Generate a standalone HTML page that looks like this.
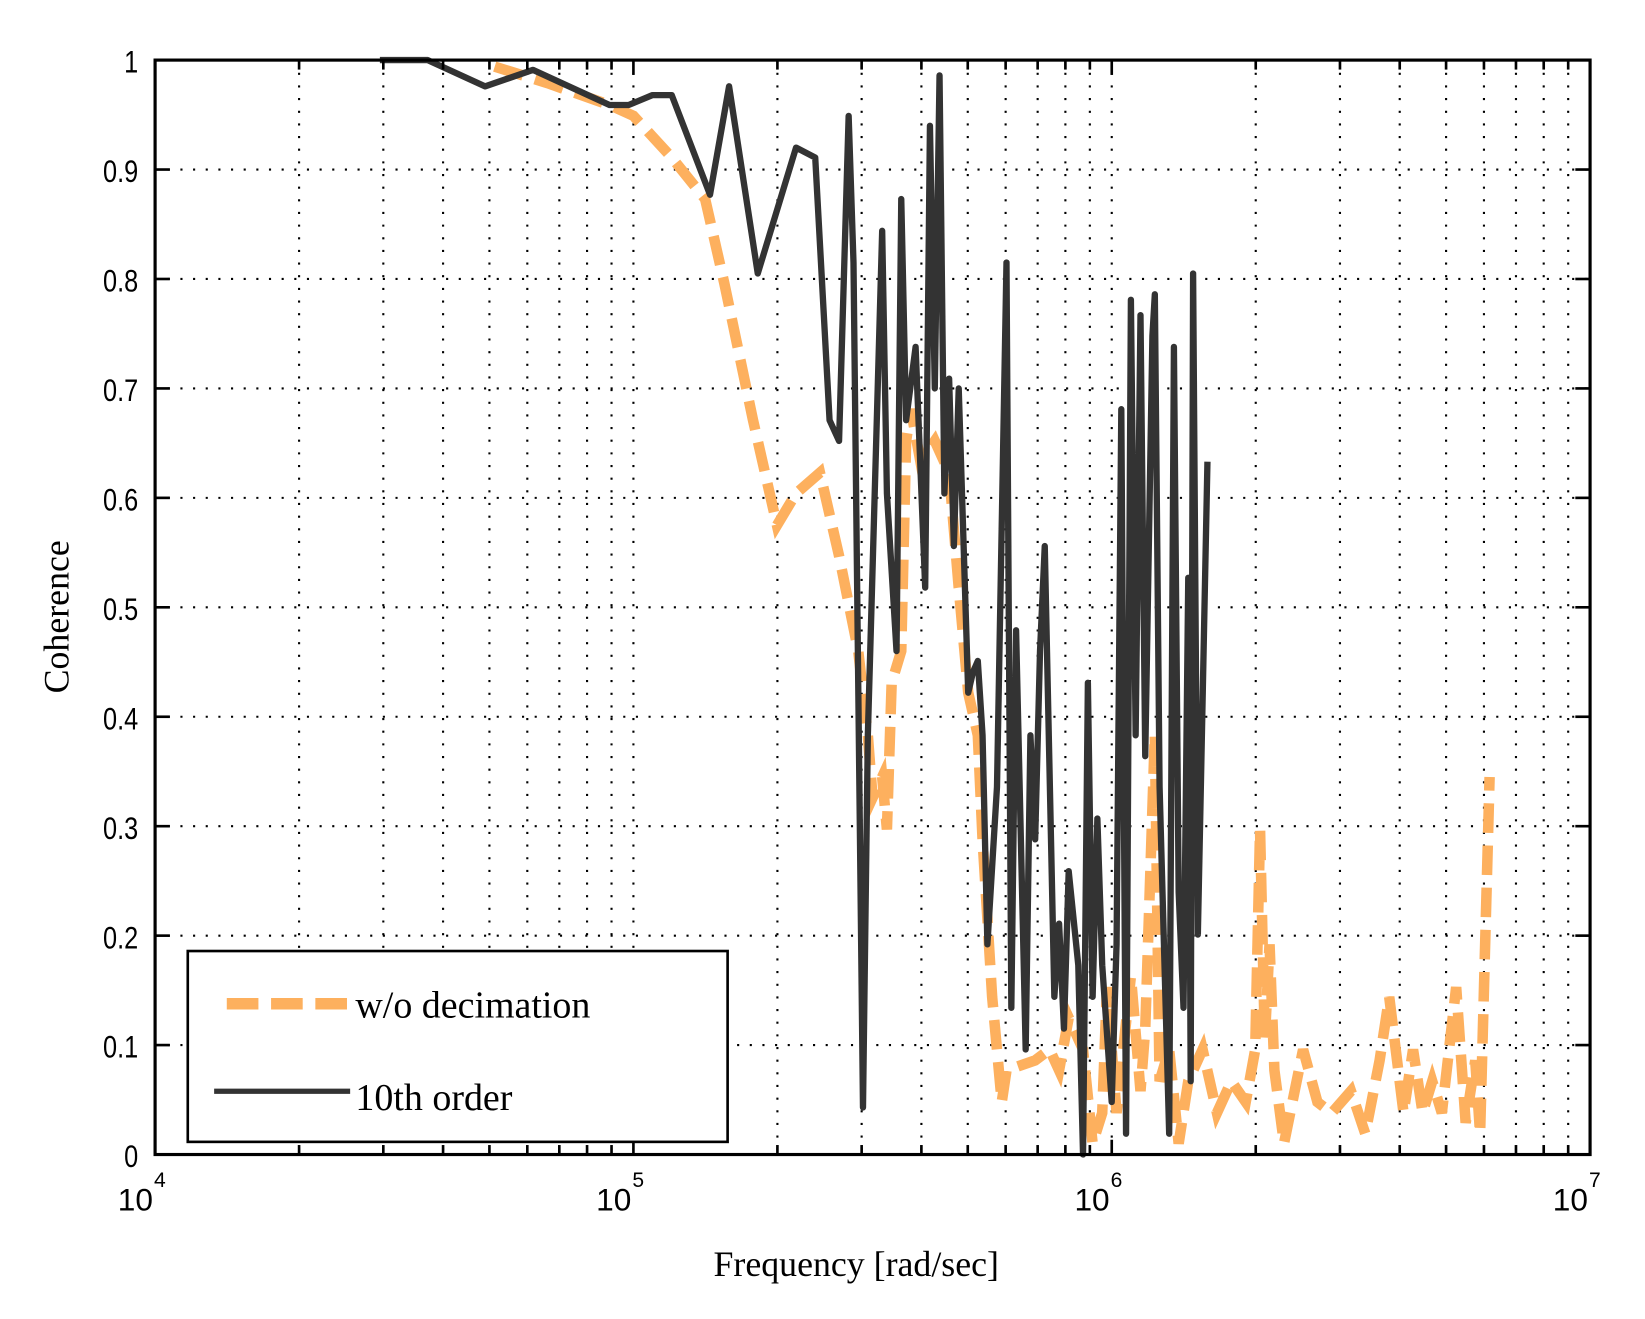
<!DOCTYPE html>
<html><head><meta charset="utf-8"><style>
html,body{margin:0;padding:0;background:#fff;}
svg{display:block;}
text{font-family:"Liberation Sans",sans-serif;fill:#000;}
.lg{font-family:"Liberation Serif",serif;}
</style></head><body>
<svg id="chart" width="1645" height="1319" viewBox="0 0 1560 1251">
<g id="grid"></g>
<g id="series"></g>
<rect x="147" y="57" width="1361" height="1038" fill="none" stroke="#000" stroke-width="3"/>
<g id="ticks"></g>
<text x="812" y="1210" font-size="34" text-anchor="middle" class="lg">Frequency [rad/sec]</text>
<text transform="translate(65,585) rotate(-90)" font-size="34" text-anchor="middle" class="lg">Coherence</text>
<g>
<rect x="178" y="902" width="512" height="181" fill="#fff" stroke="#000" stroke-width="2.5"/>
<line x1="215" y1="952" x2="332" y2="952" stroke="#fdb05e" stroke-width="11" stroke-dasharray="30,12"/>
<text x="337" y="965" font-size="36" class="lg">w/o decimation</text>
<line x1="203" y1="1035" x2="332" y2="1035" stroke="#333" stroke-width="5"/>
<text x="337" y="1053" font-size="36" class="lg">10th order</text>
</g>
</svg>
<script>
const yTicks=[0,0.1,0.2,0.3,0.4,0.5,0.6,0.7,0.8,0.9,1];
const yTickLabels=["0","0.1","0.2","0.3","0.4","0.5","0.6","0.7","0.8","0.9","1"];
const xDecades=[4,5,6,7];
const orderLogFreq=[4.47,4.57,4.69,4.79,4.95,4.99,5.04,5.08,5.16,5.20,5.26,5.34,5.38,5.41,5.43,5.45,5.46,5.48,5.49,5.52,5.53,5.55,5.56,5.57,5.59,5.61,5.62,5.63,5.64,5.65,5.66,5.67,5.68,5.70,5.71,5.72,5.73,5.74,5.76,5.78,5.79,5.80,5.82,5.83,5.84,5.85,5.86,5.88,5.89,5.90,5.91,5.93,5.94,5.95,5.96,5.97,5.98,6.00,6.01,6.02,6.03,6.04,6.05,6.06,6.07,6.085,6.09,6.10,6.12,6.13,6.14,6.15,6.16,6.165,6.17,6.18,6.20];
const orderCoh=[1.0,1.0,0.976,0.991,0.959,0.959,0.968,0.968,0.877,0.976,0.805,0.920,0.911,0.671,0.652,0.949,0.815,0.043,0.383,0.844,0.604,0.460,0.873,0.671,0.738,0.518,0.940,0.700,0.986,0.604,0.709,0.556,0.700,0.422,0.441,0.451,0.383,0.192,0.336,0.815,0.134,0.479,0.096,0.383,0.288,0.460,0.556,0.144,0.211,0.115,0.259,0.173,0.0,0.431,0.144,0.307,0.173,0.048,0.192,0.681,0.019,0.781,0.383,0.767,0.364,0.748,0.786,0.336,0.019,0.738,0.240,0.134,0.527,0.067,0.805,0.201,0.633];
const decimLogFreq=[4.71,4.82,4.95,5.00,5.08,5.15,5.19,5.25,5.30,5.34,5.39,5.43,5.47,5.49,5.50,5.52,5.53,5.54,5.56,5.57,5.58,5.60,5.63,5.66,5.68,5.70,5.72,5.73,5.75,5.77,5.78,5.84,5.87,5.89,5.91,5.94,5.96,5.98,5.99,6.01,6.04,6.06,6.07,6.09,6.10,6.12,6.14,6.16,6.19,6.22,6.25,6.28,6.30,6.31,6.32,6.33,6.34,6.36,6.40,6.43,6.46,6.50,6.53,6.56,6.58,6.61,6.63,6.65,6.67,6.69,6.72,6.74,6.76,6.77,6.79];
const decimCoh=[0.994,0.979,0.959,0.949,0.911,0.873,0.796,0.671,0.575,0.604,0.623,0.547,0.460,0.383,0.326,0.345,0.297,0.431,0.460,0.652,0.681,0.633,0.652,0.623,0.518,0.422,0.383,0.288,0.144,0.048,0.077,0.086,0.096,0.077,0.125,0.096,0.010,0.038,0.153,0.038,0.163,0.058,0.115,0.384,0.067,0.096,0.010,0.067,0.096,0.038,0.067,0.048,0.096,0.297,0.105,0.192,0.077,0.010,0.096,0.048,0.038,0.058,0.019,0.086,0.144,0.038,0.096,0.038,0.067,0.038,0.153,0.029,0.086,0.019,0.345];
const X0=147,X1=1508,Y0=1095,Y1=57;
const xs=l=>X0+(l-4)/3*(X1-X0);
const ys=v=>Y0-v*(Y0-Y1);
const NS="http://www.w3.org/2000/svg";
function mk(t,a,p){const e=document.createElementNS(NS,t);for(const k in a)e.setAttribute(k,a[k]);p.appendChild(e);return e;}
const grid=document.getElementById('grid'),ticks=document.getElementById('ticks'),series=document.getElementById('series');
yTicks.forEach((v,i)=>{
  const y=ys(v);
  if(v>0&&v<1){const g=mk('line',{x1:X0,x2:X1,y1:y,y2:y,stroke:'#000','stroke-width':2,'stroke-dasharray':'2,10'},grid);
  
  }
  mk('line',{x1:X0,x2:X0+14,y1:y,y2:y,stroke:'#000','stroke-width':2.5},ticks);
  mk('line',{x1:X1-14,x2:X1,y1:y,y2:y,stroke:'#000','stroke-width':2.5},ticks);
  const t=mk('text',{x:131,y:y+12,'font-size':30,'text-anchor':'end',transform:`translate(131,${y}) scale(0.8,1) translate(-131,${-y})`},ticks);
  t.textContent=yTickLabels[i];
  
  
});
xDecades.forEach((d,i)=>{
  const x=xs(d);
  if(i<3){for(let m=2;m<=9;m++){const xm=xs(d+Math.log10(m));
    const g=mk('line',{x1:xm,x2:xm,y1:Y1,y2:Y0,stroke:'#000','stroke-width':2,'stroke-dasharray':'2,10'},grid);
    
    
    mk('line',{x1:xm,x2:xm,y1:Y0-9,y2:Y0,stroke:'#000','stroke-width':2.5},ticks);
    mk('line',{x1:xm,x2:xm,y1:Y1,y2:Y1+9,stroke:'#000','stroke-width':2.5},ticks);}}
  if(i>0&&i<3){const g=mk('line',{x1:x,x2:x,y1:Y1,y2:Y0,stroke:'#000','stroke-width':2,'stroke-dasharray':'2,10'},grid);
  
  }
  mk('line',{x1:x,x2:x,y1:Y0-14,y2:Y0,stroke:'#000','stroke-width':2.5},ticks);
  mk('line',{x1:x,x2:x,y1:Y1,y2:Y1+14,stroke:'#000','stroke-width':2.5},ticks);
  const t=mk('text',{x:x-2,y:1148,'font-size':30,'text-anchor':'end'},ticks);
  t.textContent='10';
  
  
  const s=mk('text',{x:x-1,y:1126,'font-size':20},ticks);
  s.textContent=String(d);
});
function path(lx,ly){return lx.map((l,i)=>(i?'L':'M')+xs(l).toFixed(1)+','+ys(ly[i]).toFixed(1)).join('');}
const pd=mk('path',{d:path(decimLogFreq,decimCoh),fill:'none',stroke:'#fdb05e','stroke-width':10,'stroke-dasharray':'28,12','stroke-linejoin':'miter'},series);


const po=mk('path',{d:path(orderLogFreq,orderCoh),fill:'none',stroke:'#333','stroke-width':6,'stroke-linejoin':'round'},series);


</script>
</body></html>
